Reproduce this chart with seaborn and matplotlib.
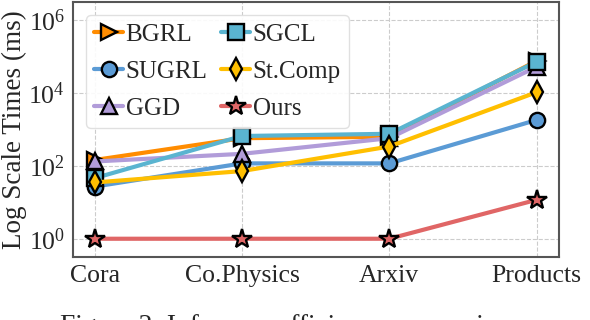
import pandas as pd
import seaborn as sns
import matplotlib
matplotlib.use('Agg')
import matplotlib.pyplot as plt

# inference times (ms)
datasets = ['Cora', 'Co.Physics', 'Arxiv', 'Products']
methods = ['BGRL', 'SUGRL', 'GGD', 'SGCL', 'St.Comp', 'Ours']
bgrl = [145, 575, 630, 76000]
sugrl = [27, 117, 117, 1820]
ggd = [132, 214, 575, 52500]
sgcl = [46, 660, 760, 72000]
stcomp = [35, 72, 340, 10500]
ours = [1, 1, 1, 11.7]

colors = ['#ff8c00', '#5b9bd5', '#b19cd9', '#5ab4d0', '#ffbf00', '#e06666']
markers = ['>', 'o', '^', 's', 'd', '*']

rows = []
for m, vals in zip(methods, [bgrl, sugrl, ggd, sgcl, stcomp, ours]):
    for i, v in enumerate(vals):
        rows.append({'method': m, 'pos': i, 'time': v})
df = pd.DataFrame(rows)

sns.set_style('whitegrid', {'grid.linestyle': '--', 'grid.color': '#cccccc',
                            'axes.edgecolor': '#555555'})
plt.rcParams['font.family'] = ['Liberation Serif', 'DejaVu Serif']
plt.rcParams['mathtext.fontset'] = 'stix'

fig, ax = plt.subplots(figsize=(5.9, 3.2), dpi=100)
fig.subplots_adjust(left=0.123, right=0.947, top=0.994, bottom=0.197)

for m, c, mk in zip(methods, colors, markers):
    ms = 14.5 if mk == '*' else 11
    sns.lineplot(x='pos', y='time', data=df[df.method == m], ax=ax,
                 color=c, marker=mk, markersize=ms, markeredgecolor='black',
                 markeredgewidth=1.7, linewidth=3, label=m)

ax.set_yscale('log')
ax.set_ylim(10 ** -0.5, 10 ** 6.5)
ax.set_yticks([1, 1e2, 1e4, 1e6])
ax.minorticks_off()
ax.set_xlim(-0.15, 3.15)
ax.set_xticks(range(len(datasets)))
ax.set_xticklabels(datasets, fontsize=18.5)
ax.tick_params(axis='y', labelsize=18.5, pad=2)
ax.tick_params(axis='x', pad=2)
ax.set_xlabel('')
ax.set_ylabel('Log Scale Times (ms)', fontsize=19.5, labelpad=1)
for s in ax.spines.values():
    s.set_linewidth(1.5)

ax.legend(ncol=2, loc='upper left', bbox_to_anchor=(0.027, 0.949),
          borderaxespad=0, fontsize=18, handlelength=1.15,
          handletextpad=0.1, columnspacing=0.55, labelspacing=0.57,
          borderpad=0.35, frameon=True, framealpha=0.9, edgecolor='#dddddd')

# caption of the source figure, cut off at the bottom edge
fig.text(60 / 590, 1 - 314 / 320, 'Figure 2: Inference efficiency comparison.',
         ha='left', va='top', fontsize=19.8)

fig.savefig('out.png', dpi=100)
